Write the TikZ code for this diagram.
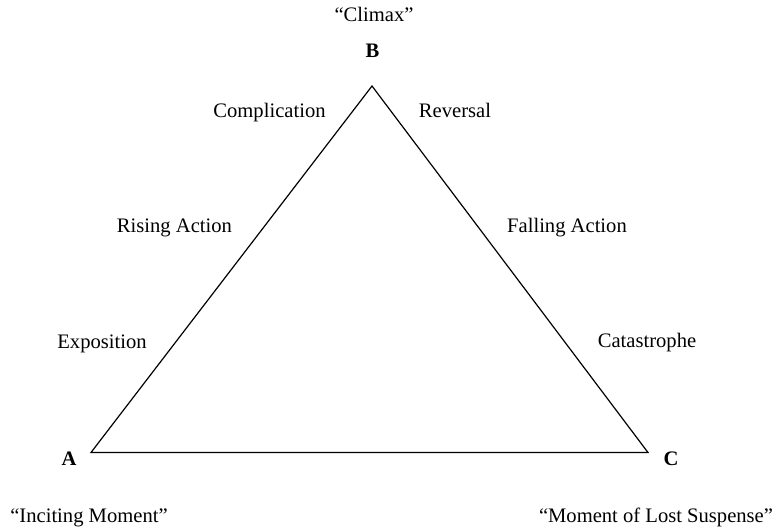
\documentclass[tikz,border=0pt]{standalone}
\usepackage{fontspec}
\setmainfont{Liberation Serif}
\begin{document}
\begin{tikzpicture}[x=1pt, y=-1pt,
    lbl/.style={anchor=base, inner sep=0pt,
      font=\fontsize{20.6}{24}\selectfont},
    vtx/.style={lbl, font=\fontsize{20.6}{24}\selectfont\bfseries}]
        \useasboundingbox (0, 0) rectangle (783, 530); %
        \coordinate (A) at (91, 452.5); %
        \coordinate (B) at (372, 86); %
        \coordinate (C) at (648, 452.5); %
        \draw[line width=1.2pt, line join=miter] (A) -- (B) -- (C) --
        cycle; %
        \node[vtx] (labA) at (69, 465.5) {A};
        \node[vtx] (labB) at (372.5, 57) {B};
        \node[vtx] (labC) at (671, 465.5) {C};
        \node[lbl] (climax) at (374, 21) {“Climax”};
        \node[lbl] (incite) at (89, 522) {“Inciting Moment”};
        \node[lbl] (lost) at (656, 522) {“Moment of Lost Suspense”};
        \node[lbl] (compl) at (269.5, 117) {Complication};
        \node[lbl] (rev) at (455, 117) {Reversal};
        \node[lbl] (rise) at (174.5, 232) {Rising Action};
        \node[lbl] (fall) at (567, 232) {Falling Action};
        \node[lbl] (expo) at (102, 348) {Exposition};
        \node[lbl] (cata) at (647, 347) {Catastrophe};
      \end{tikzpicture}
\end{document}
